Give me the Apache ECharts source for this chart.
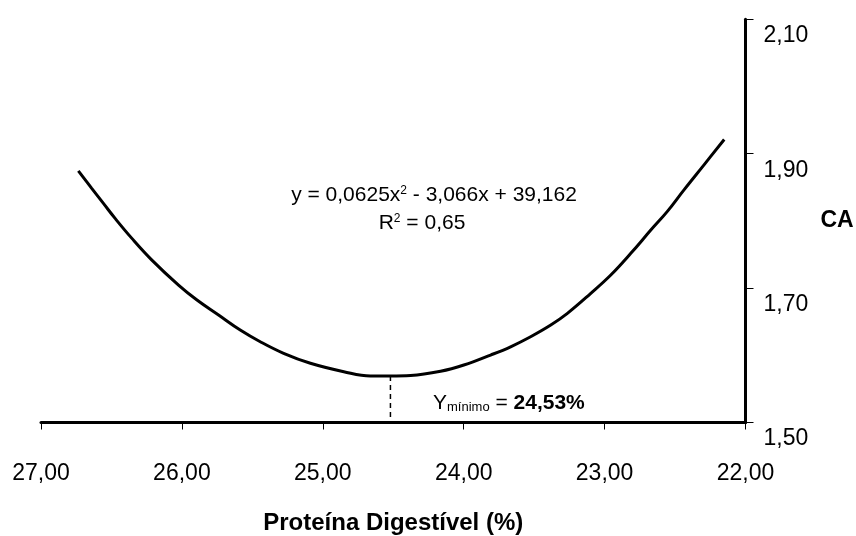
<!DOCTYPE html>
<html>
<head>
<meta charset="utf-8">
<script src="https://cdn.jsdelivr.net/npm/echarts@6/dist/echarts.min.js"></script>
<style>
  html, body { margin: 0; padding: 0; background: #fff; }
  #chart { width: 856px; height: 536px; }
</style>
</head>
<body>
<div id="chart"></div>
<script>
// Values
const proteinValues = [26.735, 26.640, 26.557, 26.474, 26.355, 26.213, 26.024, 25.893, 25.740, 25.586,
  25.444, 25.278, 25.088, 24.851, 24.662, 24.520, 24.377, 24.164, 23.999, 23.809, 23.667, 23.525,
  23.382, 23.264, 23.098, 22.956, 22.814, 22.672, 22.553, 22.435, 22.293, 22.151];
const caValues = [1.8745, 1.8484, 1.8260, 1.8037, 1.7740, 1.7417, 1.7045, 1.6822, 1.6599, 1.6376,
  1.6202, 1.6029, 1.5881, 1.5756, 1.5692, 1.5692, 1.5699, 1.5762, 1.5855, 1.6004, 1.6127, 1.6276,
  1.6450, 1.6624, 1.6922, 1.7194, 1.7517, 1.7863, 1.8146, 1.8466, 1.8838, 1.9212];
const minimumX = [24.52, 24.52];
const minimumY = [1.5692, 1.50];
const xTicks = [22, 23, 24, 25, 26, 27];
const yTicks = [1.50, 1.70, 1.90, 2.10];
const xAxisTitle = 'Proteína Digestível (%)';
const yAxisTitle = 'CA';
const equationText = 'y = 0,0625x{sup|2} - 3,066x + 39,162';
const r2Text = 'R{sup|2} = 0,65';
const minimumText = '{n|Y}{s|mínimo}{n| = }{b|24,53%}';

const FONT = "'Liberation Sans', Arial, Helvetica, sans-serif";
const fmt = v => v.toFixed(2).replace('.', ',');

const curveData = proteinValues.map((x, i) => [x, caValues[i]]);
const dashData = minimumX.map((x, i) => [x, minimumY[i]]);

const chart = echarts.init(document.getElementById('chart'), null, { renderer: 'canvas' });
chart.setOption({
  animation: false,
  backgroundColor: '#ffffff',
  grid: { left: 41, right: 110.5, top: 19.3, bottom: 113.5, containLabel: false, outerBoundsMode: 'none' },
  xAxis: {
    type: 'value',
    inverse: true,
    min: xTicks[0],
    max: xTicks[xTicks.length - 1],
    interval: 1,
    name: xAxisTitle,
    nameLocation: 'middle',
    nameGap: 89,
    nameTextStyle: { fontFamily: FONT, fontSize: 24, fontWeight: 'bold', color: '#000' },
    axisLine: { show: true, onZero: false, lineStyle: { color: '#000', width: 3 } },
    axisTick: { show: true, length: 7, lineStyle: { color: '#000', width: 1 } },
    axisLabel: { fontFamily: FONT, fontSize: 23, color: '#000', margin: 40, formatter: fmt },
    splitLine: { show: false }
  },
  yAxis: {
    type: 'value',
    position: 'right',
    min: yTicks[0],
    max: yTicks[yTicks.length - 1],
    interval: 0.2,
    name: yAxisTitle,
    nameLocation: 'middle',
    nameRotate: 0,
    nameGap: 75,
    nameTextStyle: { fontFamily: FONT, fontSize: 23, fontWeight: 'bold', color: '#000' },
    axisLine: { show: true, onZero: false, lineStyle: { color: '#000', width: 3 } },
    axisTick: { show: true, length: 8, lineStyle: { color: '#000', width: 1 } },
    axisLabel: { fontFamily: FONT, fontSize: 23, color: '#000', margin: 18, formatter: fmt,
                 verticalAlign: 'top', lineHeight: 33 },
    splitLine: { show: false }
  },
  series: [
    {
      type: 'line',
      data: curveData,
      smooth: 0.4,
      showSymbol: false,
      lineStyle: { color: '#000', width: 3 },
      silent: true,
      z: 3
    },
    {
      type: 'line',
      data: dashData,
      showSymbol: false,
      lineStyle: { color: '#000', width: 1.5, type: [5, 4] },
      silent: true,
      z: 2
    }
  ],
  graphic: [
    {
      type: 'text',
      x: 434, y: 195,
      style: {
        text: equationText,
        align: 'center', verticalAlign: 'middle',
        fontFamily: FONT, fontSize: 21, fill: '#000',
        rich: { sup: { fontFamily: FONT, fontSize: 12, verticalAlign: 'top', fill: '#000' } }
      }
    },
    {
      type: 'text',
      x: 422, y: 223,
      style: {
        text: r2Text,
        align: 'center', verticalAlign: 'middle',
        fontFamily: FONT, fontSize: 21, fill: '#000',
        rich: { sup: { fontFamily: FONT, fontSize: 12, verticalAlign: 'top', fill: '#000' } }
      }
    },
    {
      type: 'text',
      x: 433, y: 403,
      style: {
        text: minimumText,
        align: 'left', verticalAlign: 'middle',
        fill: '#000',
        rich: {
          n: { fontFamily: FONT, fontSize: 21, fill: '#000' },
          s: { fontFamily: FONT, fontSize: 13, fill: '#000', verticalAlign: 'bottom' },
          b: { fontFamily: FONT, fontSize: 21, fontWeight: 'bold', fill: '#000' }
        }
      }
    }
  ]
});
</script>
</body>
</html>
